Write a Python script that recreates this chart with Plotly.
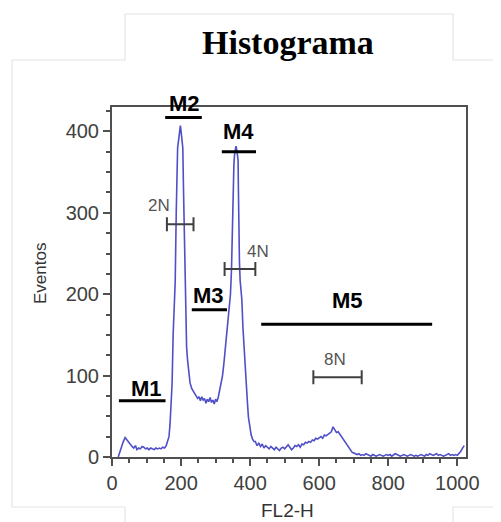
import plotly.graph_objects as go

# Histogram (FL2-H channel vs number of events)
fl2_h = [18, 25, 32, 38, 43, 48, 53, 58, 63, 68, 72, 77, 82, 87, 92, 97, 102, 107, 112, 117,
         122, 127, 132, 137, 142, 147, 152, 157, 162, 165, 168, 171, 174, 177, 180, 183, 186, 188,
         190, 193, 196, 198, 200, 203, 205, 207, 209, 210, 211, 212, 214, 216, 219, 223, 226, 231,
         236, 241, 245, 248, 252, 256, 260, 264, 268, 272, 276, 280, 284, 288, 292, 296, 300, 304,
         308, 312, 316, 320, 324, 328, 332, 336, 340, 343, 346, 348, 349, 351, 353, 355, 357, 359,
         361, 363, 365, 366, 367, 369, 371, 373, 376, 379, 382, 386, 389, 392, 395, 399, 403, 407,
         411, 415, 420, 425, 430, 435, 440, 445, 450, 455, 460, 465, 470, 475, 480, 485, 490, 495,
         500, 505, 510, 515, 520, 525, 530, 535, 540, 545, 550, 555, 560, 565, 570, 575, 580, 585,
         590, 595, 600, 605, 610, 615, 620, 625, 630, 635, 640, 643, 646, 650, 655, 660, 665, 670,
         675, 680, 685, 690, 695, 700, 705, 710, 715, 720, 725, 730, 735, 740, 745, 750, 755, 760,
         765, 770, 775, 780, 785, 790, 795, 800, 805, 810, 815, 820, 825, 830, 835, 840, 845, 850,
         855, 860, 865, 870, 875, 880, 885, 890, 895, 900, 905, 910, 915, 920, 925, 930, 935, 940,
         945, 950, 955, 960, 965, 970, 975, 980, 985, 990, 995, 1000, 1005, 1010, 1015, 1020]
eventos = [0, 10, 18, 24, 21, 19, 16, 13, 11, 14, 9, 11, 10, 13, 12, 10, 11, 9, 11, 10,
           9, 11, 10, 11, 10, 12, 11, 14, 20, 25, 40, 60, 90, 150, 195, 215, 300, 340,
           380, 390, 405, 407, 400, 385, 380, 330, 290, 240, 215, 195, 160, 135, 118, 100, 91, 84,
           80, 76, 74, 72, 74, 69, 74, 70, 72, 66, 71, 68, 73, 67, 70, 65, 71, 68,
           74, 82, 90, 100, 115, 132, 152, 170, 188, 200, 230, 270, 320, 345, 360, 372, 379, 382,
           378, 372, 365, 330, 280, 240, 217, 205, 193, 160, 135, 111, 90, 68, 49, 35, 27, 22,
           19, 19, 14, 17, 13, 16, 11, 14, 12, 10, 13, 11, 9, 12, 10, 8, 11, 12,
           10, 13, 15, 12, 9, 11, 14, 13, 15, 12, 16, 15, 18, 17, 19, 18, 21, 20,
           23, 22, 24, 25, 23, 27, 26, 28, 30, 31, 37, 35, 34, 30, 31, 28, 24, 22,
           18, 16, 12, 9, 6, 5, 4, 3, 4, 2, 3, 2, 4, 3, 2, 1, 3, 2,
           1, 2, 3, 2, 1, 2, 3, 2, 3, 1, 2, 4, 3, 2, 1, 2, 3, 2,
           1, 2, 3, 2, 1, 2, 1, 2, 3, 2, 1, 3, 2, 4, 3, 2, 3, 4,
           2, 3, 2, 1, 2, 3, 4, 2, 3, 2, 3, 2, 4, 7, 11, 14]

# Marker gates M1..M5: start, end, level
gate_names = ["M1", "M2", "M3", "M4", "M5"]
gate_start = [20, 154, 231, 318, 432]
gate_end = [155, 260, 333, 417, 927]
gate_level = [69, 417, 181, 375, 163]

# Ploidy ranges 2N, 4N, 8N: start, end, level
ploidy_names = ["2N", "4N", "8N"]
ploidy_start = [159, 326, 583]
ploidy_end = [236, 415, 723]
ploidy_level = [286, 231, 98]

x_ticks = [0, 200, 400, 600, 800, 1000]
y_ticks = [0, 100, 200, 300, 400]

# page geometry (the page body adds an 8px offset)
O = 8
PW, PH = 501, 522
W, H = PW - O, PH - O
L, T = 112 - O, 107 - O
R, B = 35, 65
pw, ph = W - L - R, H - T - B


def px(xpage):
    return (xpage - O - L) / pw


def py(ypage):
    return (H - B - (ypage - O)) / ph


fig = go.Figure()

fig.add_trace(go.Scatter(x=fl2_h, y=eventos, mode="lines",
                         line=dict(color="#4f4fc8", width=1.6), hoverinfo="skip"))

# gate bars
for name, s, e, lv in zip(gate_names, gate_start, gate_end, gate_level):
    fig.add_trace(go.Scatter(x=[s, e], y=[lv, lv], mode="lines",
                             line=dict(color="black", width=3), cliponaxis=False))

# ploidy bars with end caps
for name, s, e, lv in zip(ploidy_names, ploidy_start, ploidy_end, ploidy_level):
    c = (s + e) / 2
    fig.add_trace(go.Scatter(x=[c], y=[lv], mode="markers",
                             marker=dict(size=0.1, color="rgba(0,0,0,0)"),
                             error_x=dict(type="data", array=[(e - s) / 2], color="#404040",
                                          thickness=2, width=7)))

# Gate labels (page-pixel positions)
gate_label_pos = {"M1": (146, 388), "M2": (184, 103), "M3": (208, 295), "M4": (238, 131), "M5": (347, 300)}
for name in gate_names:
    x, y = gate_label_pos[name]
    fig.add_annotation(xref="paper", yref="paper", x=px(x), y=py(y), xanchor="center", yanchor="middle",
                       text="<b>%s</b>" % name, showarrow=False,
                       font=dict(family="Liberation Sans, Arial", size=22, color="black"))

ploidy_label_pos = {"2N": (159, 205), "4N": (258, 251), "8N": (335, 359)}
for name in ploidy_names:
    x, y = ploidy_label_pos[name]
    fig.add_annotation(xref="paper", yref="paper", x=px(x), y=py(y), xanchor="center", yanchor="middle",
                       text=name, showarrow=False,
                       font=dict(family="Liberation Sans, Arial", size=17, color="#555555"))

# Title and axis titles
fig.add_annotation(xref="paper", yref="paper", x=px(288), y=py(42), xanchor="center", yanchor="middle",
                   text="<b>Histograma</b>", showarrow=False,
                   font=dict(family="Liberation Serif, Times New Roman", size=34, color="black"))
fig.add_annotation(xref="paper", yref="paper", x=px(287), y=py(510), xanchor="center", yanchor="middle",
                   text="FL2-H", showarrow=False,
                   font=dict(family="Liberation Sans, Arial", size=19, color="#333333"))
fig.add_annotation(xref="paper", yref="paper", x=px(40), y=py(274), xanchor="center", yanchor="middle",
                   text="Eventos", textangle=-90, showarrow=False,
                   font=dict(family="Liberation Sans, Arial", size=17, color="#333333"))

# faint outer frame
frame_paths = [
    [(12, 60), (125, 60), (125, 14), (453, 14), (453, 60), (501, 60)],
    [(12, 60), (12, 507), (125, 507), (125, 522)],
    [(453, 522), (453, 507), (501, 507)],
]
for pts in frame_paths:
    path = "M " + " L ".join("%f,%f" % (px(a), py(b)) for a, b in pts)
    fig.add_shape(type="path", path=path, xref="paper", yref="paper",
                  line=dict(color="#e4e4e4", width=1.2), layer="below")

axis_common = dict(showgrid=False, zeroline=False, showline=True, linecolor="#505050", linewidth=2,
                   mirror=True, ticks="outside", ticklen=7, tickwidth=2, tickcolor="#505050",
                   tickfont=dict(family="Liberation Sans, Arial", size=20, color="#404040"),
                   automargin=False)

fig.update_layout(
    width=W, height=H, margin=dict(l=L, r=R, t=T, b=B),
    paper_bgcolor="white", plot_bgcolor="white", showlegend=False,
    xaxis=dict(range=[0, 1025], tickvals=x_ticks,
               minor=dict(ticks="outside", ticklen=4, tickwidth=1.5, dtick=50, tickcolor="#505050"),
               **axis_common),
    yaxis=dict(range=[0, 430], tickvals=y_ticks,
               minor=dict(ticks="outside", ticklen=4, tickwidth=1.5, dtick=25, tickcolor="#505050"),
               **axis_common),
)

fig.write_html("out.html",
               post_script="document.documentElement.style.overflow='hidden';"
                           "document.body.style.overflow='hidden';")
